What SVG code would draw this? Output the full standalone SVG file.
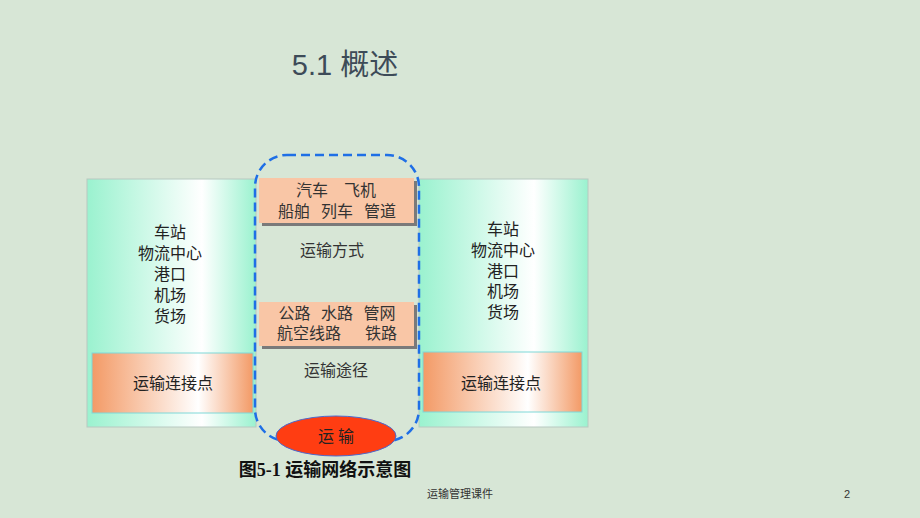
<svg xmlns="http://www.w3.org/2000/svg" width="920" height="518" viewBox="0 0 920 518">
<defs>
<linearGradient id="gGreen" x1="0" y1="0" x2="1" y2="0">
<stop offset="0" stop-color="#9af2cf"/>
<stop offset="0.68" stop-color="#ffffff"/>
<stop offset="1" stop-color="#9af2cf"/>
</linearGradient>
<linearGradient id="gOrange" x1="0" y1="0" x2="1" y2="0">
<stop offset="0" stop-color="#f39a66"/>
<stop offset="0.66" stop-color="#ffffff"/>
<stop offset="1" stop-color="#f39a66"/>
</linearGradient>
<style>
.zh{font-family:"Liberation Serif","Noto Sans CJK SC",serif;font-size:16px;fill:#222;text-anchor:middle}
.mid{fill:#333}
.panel{fill:url(#gGreen);stroke:#b8c8c0;stroke-width:1}
.link{fill:url(#gOrange);stroke:#7fd8d8;stroke-width:1}
.mode{fill:#f9c6a6}
.shadow{fill:#7a7a7a}
</style>
</defs>
<rect width="920" height="518" fill="#d7e6d6"/>
<text x="345" y="75" font-family="'Liberation Sans','Noto Sans CJK SC',sans-serif" font-size="29" fill="#3d4b58" text-anchor="middle">5.1 概述</text>

<g id="left-panel">
<rect class="panel" x="87" y="179" width="169" height="248"/>
<text class="zh" x="170" y="238">车站</text>
<text class="zh" x="170" y="259">物流中心</text>
<text class="zh" x="170" y="280">港口</text>
<text class="zh" x="170" y="301">机场</text>
<text class="zh" x="170" y="322">货场</text>
</g>
<g id="left-link">
<rect class="link" x="92" y="353" width="161" height="60"/>
<text class="zh" x="173" y="389">运输连接点</text>
</g>

<g id="right-panel">
<rect class="panel" x="419" y="179" width="169" height="248"/>
<text class="zh" x="503" y="235">车站</text>
<text class="zh" x="503" y="256">物流中心</text>
<text class="zh" x="503" y="277">港口</text>
<text class="zh" x="503" y="297">机场</text>
<text class="zh" x="503" y="318">货场</text>
</g>
<g id="right-link">
<rect class="link" x="423" y="352" width="159" height="60"/>
<text class="zh" x="501" y="389">运输连接点</text>
</g>

<g id="modes">
<rect class="shadow" x="262" y="181" width="155" height="45"/>
<rect class="mode" x="259" y="178" width="155" height="45"/>
<text class="zh mid" x="336" y="196">汽车　飞机</text>
<text class="zh mid" x="337" y="217" word-spacing="7">船舶 列车 管道</text>
<text class="zh mid" x="332" y="256">运输方式</text>
</g>

<g id="routes">
<rect class="shadow" x="262" y="305" width="155" height="44"/>
<rect class="mode" x="259" y="302" width="155" height="44"/>
<text class="zh mid" x="337" y="319" word-spacing="6.5">公路 水路 管网</text>
<text class="zh mid" x="337" y="339" word-spacing="4">航空线路　 铁路</text>
<text class="zh mid" x="336" y="376">运输途径</text>
</g>

<g id="connectors">
<rect x="255" y="155" width="164" height="286" rx="32" ry="32" fill="none" stroke="#1f6fe6" stroke-width="2.5" stroke-dasharray="9 5"/>
</g>

<g id="transport">
<ellipse cx="336" cy="436" rx="60" ry="20" fill="#ff3d12" stroke="#4a6ad0" stroke-width="1"/>
<text class="zh" x="336" y="442" font-size="17">运 输</text>
</g>

<text x="325" y="476" font-family="'Liberation Serif','Noto Sans CJK SC',serif" font-size="18" font-weight="bold" fill="#111" text-anchor="middle">图5-1 运输网络示意图</text>
<text x="460" y="498" font-family="'Liberation Sans','Noto Sans CJK SC',sans-serif" font-size="11" fill="#333" text-anchor="middle">运输管理课件</text>
<text x="847" y="498" font-family="'Liberation Sans','Noto Sans CJK SC',sans-serif" font-size="11" fill="#333" text-anchor="middle">2</text>
</svg>
